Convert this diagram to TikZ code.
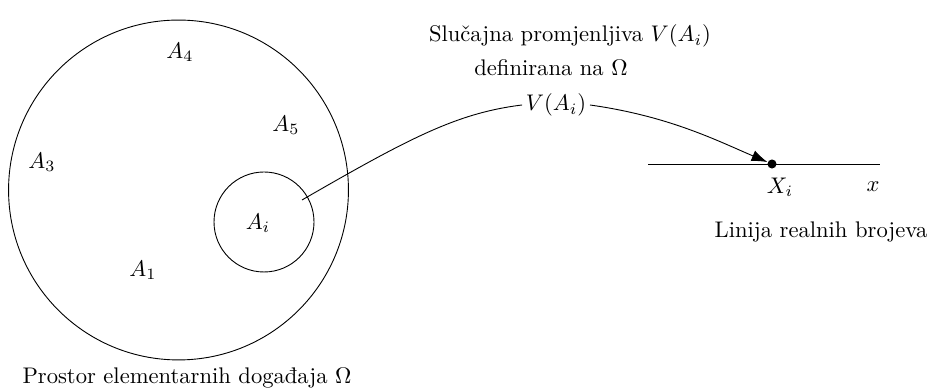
\documentclass[tikz,border=0pt]{standalone}
\usetikzlibrary{arrows.meta}
\begin{document}
\begin{tikzpicture}[x=0.4425pt,y=0.4425pt,
  set/.style={draw,circle,inner sep=0pt},
  lbl/.style={inner sep=1.5pt}]
\useasboundingbox (0,0) rectangle (929,392);
% sets
\node[set,minimum size=150.4pt] (omega) at (178.5,202) {};
\node[set,minimum size=44.25pt] (ai) at (264,170) {};
\node (a4) at (180,340) {$A_4$};
\node (a5) at (286,267) {$A_5$};
\node (a3) at (42,230) {$A_3$};
\node (a1) at (143,122) {$A_1$};
\node (aiL) at (258,169) {$A_i$};
\node (omegaL) at (187,14) {Prostor elementarnih događaja $\Omega$};
% real line
\coordinate (l0) at (648,228);
\coordinate (l1) at (880,228);
\draw (l0) -- (l1);
\node[circle,fill=black,inner sep=0pt,minimum size=4pt] (xi) at (772,228) {};
\node (xiL) at (780,205) {$X_i$};
\node (xL) at (873,205) {$x$};
\node (lineL) at (821,160) {Linija realnih brojeva};
% random variable
\node (t1) at (570,356) {Slučajna promjenljiva $V(A_i)$};
\node (t2) at (551,324) {definirana na $\Omega$};
\node[lbl] (v) at (556,287) {$V(A_i)$};
\coordinate (s) at (302,192);
\draw (s) .. controls +(30:125) and +(187:65) .. (v.west);
\draw[-{Latex[length=7pt,width=5pt]}] (v.east) .. controls +(-8:80) and +(157:60) .. (xi);
\end{tikzpicture}
\end{document}
